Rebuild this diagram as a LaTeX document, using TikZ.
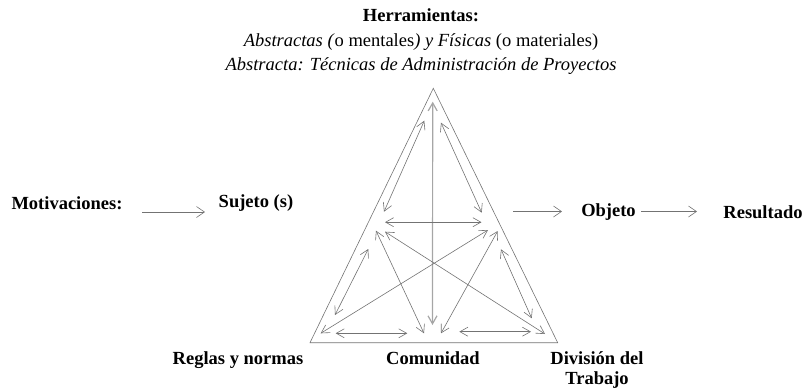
\documentclass[tikz,border=0pt]{standalone}
\usepackage{fontspec}
\setmainfont{Liberation Serif}
\usetikzlibrary{arrows.meta}
\begin{document}
\begin{tikzpicture}[x=1pt,y=-1pt,
  lbl/.style={font=\fontsize{18.5}{22}\selectfont\bfseries, inner sep=0pt, anchor=base},
  txt/.style={font=\fontsize{18.5}{22}\selectfont, inner sep=0pt, anchor=base},
  tri/.style={draw=black!55, line width=0.6pt, line join=miter},
  arr/.style={draw=black!55, line width=0.6pt, -{Straight Barb[length=8pt,width=11pt]}},
  darr/.style={draw=black!55, line width=0.6pt, {Straight Barb[length=8pt,width=9pt]}-{Straight Barb[length=8pt,width=9pt]}},
  varr/.style={draw=black!35, line width=1.2pt, {Straight Barb[length=8pt,width=9pt]}-{Straight Barb[length=8pt,width=9pt]}}
]
\path[use as bounding box] (0,0) rectangle (804,389);

% top texts
\node[lbl] (herr) at (421,21) {Herramientas:};
\node[txt] (tools) at (421,46) {\textit{Abstractas (}o mentales\textit{) y Físicas} (o materiales)};
\node[txt] (abst) at (421,70) {\textit{Abstracta: Técnicas de Administración de Proyectos}};

% side texts
\node[lbl] (mot) at (67,209) {Motivaciones:};
\node[lbl] (suj) at (256,207) {Sujeto (s)};
\node[lbl] (obj) at (608.5,216) {Objeto};
\node[lbl] (res) at (763,218) {Resultado};

% bottom texts
\node[lbl] (reg) at (238,364) {Reglas y normas};
\node[lbl] (com) at (433,364) {Comunidad};
\node[lbl] (div) at (597,364) {División del};
\node[lbl] (tra) at (597,384) {Trabajo};

% outer arrows
\coordinate (ma1) at (142,212); \coordinate (ma2) at (205,212);
\coordinate (oa1) at (513,211.5); \coordinate (oa2) at (562,211.5);
\coordinate (ra1) at (641,211.5); \coordinate (ra2) at (697,211.5);
\draw[arr] (ma1) -- (ma2);
\draw[arr] (oa1) -- (oa2);
\draw[arr] (ra1) -- (ra2);

% triangle
\coordinate (A) at (433.3,88.3);
\coordinate (L) at (310,342.7);
\coordinate (R) at (557.7,342.7);
\draw[tri] (A) -- (L) -- (R) -- cycle;

% inner arrows
\coordinate (v1) at (432.7,101.7); \coordinate (v2) at (432.5,325);
\coordinate (l1) at (424.3,120.7); \coordinate (l2) at (384,211.7);
\coordinate (r1) at (441,122.7);   \coordinate (r2) at (481.7,212.7);
\coordinate (h1) at (385,222.2);   \coordinate (h2) at (481.5,222.2);
\coordinate (x1) at (376,230.7);   \coordinate (x2) at (424,333.3);
\coordinate (y1) at (385,231.7);   \coordinate (y2) at (545,334);
\coordinate (z1) at (488,230);     \coordinate (z2) at (320.7,333.3);
\coordinate (w1) at (497.7,231);   \coordinate (w2) at (441,333.3);
\coordinate (s1) at (368.3,249);   \coordinate (s2) at (335,315);
\coordinate (t1) at (501,249.3);   \coordinate (t2) at (531.7,318.3);
\coordinate (b1) at (335.7,333.3); \coordinate (b2) at (407.3,333.3);
\coordinate (c1) at (459.3,331.7); \coordinate (c2) at (531,331.7);

\draw[varr] (v1) -- (v2);
\foreach \p in {l,r,h,x,y,z,w,s,t,b,c}{
  \draw[darr] (\p1) -- (\p2);
}
\end{tikzpicture}
\end{document}
